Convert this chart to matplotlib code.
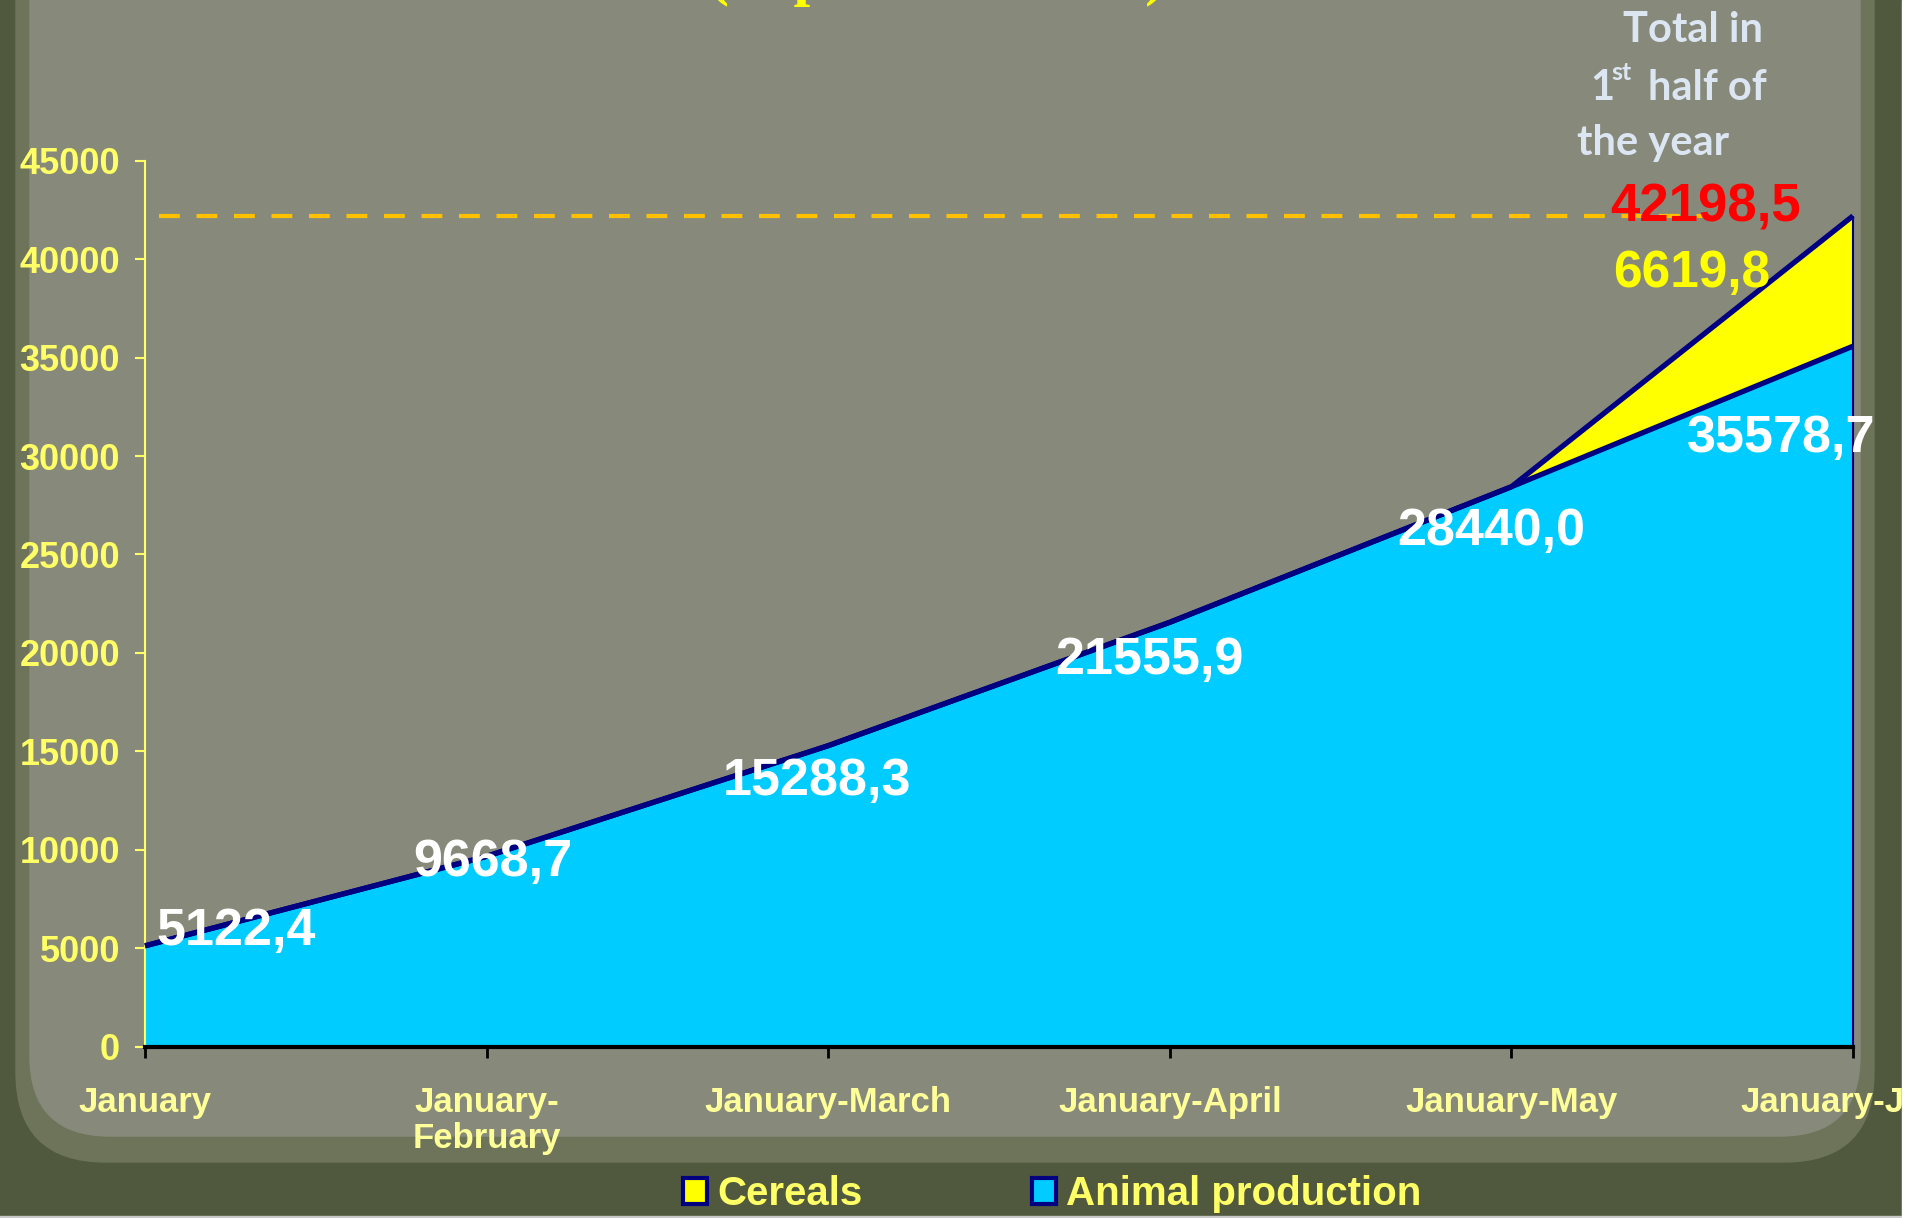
import matplotlib
matplotlib.use("Agg")
import matplotlib.pyplot as plt
from matplotlib.patches import Rectangle, FancyBboxPatch, Patch

# data (thousand units), cumulative by month, 1st half of the year
periods = ["January", "January-\nFebruary", "January-March", "January-April",
           "January-May", "January-June"]
animal = [5122.4, 9668.7, 15288.3, 21555.9, 28440.0, 35578.7]
cereals = [0.0, 0.0, 0.0, 0.0, 0.0, 6619.8]
animal_labels = ["5122,4", "9668,7", "15288,3", "21555,9", "28440,0", "35578,7"]
cereal_label = "6619,8"
total_label = "42198,5"
series_names = ["Cereals", "Animal production"]

W, H = 1923, 1218
plt.rcParams['font.family'] = ['Liberation Sans', 'DejaVu Sans']
plt.rcParams['font.weight'] = 'bold'

fig = plt.figure(figsize=(W / 100, H / 100), dpi=100)
fig.patch.set_facecolor('white')

# stone-like background with darker border
bg = fig.add_axes([0, 0, 1, 1], zorder=-5)
bg.set_xlim(0, W)
bg.set_ylim(H, 0)
bg.axis('off')
bg.add_patch(Rectangle((0, 0), 1902, 1216, color='#50593d'))
bg.add_patch(FancyBboxPatch((16, -200), 1858, 1362,
                            boxstyle="round,pad=0,rounding_size=90",
                            color='#6d7459'))
bg.add_patch(FancyBboxPatch((30, -200), 1830, 1336,
                            boxstyle="round,pad=0,rounding_size=80",
                            color='#878a7b'))
bg.add_patch(Rectangle((0, 1216), W, 2, color='#c8c8c8'))

ax = fig.add_axes([145 / W, 1 - 1046.7 / H, (1853 - 145) / W, (1046.7 - 160.7) / H])
ax.set_facecolor('none')

x = list(range(len(periods)))
total = [a + c for a, c in zip(animal, cereals)]

ax.stackplot(x, animal, cereals, colors=['#00CCFF', '#FFFF00'], linewidth=0, zorder=2)
ax.plot(x, total, color='#000080', lw=3.8, zorder=3, clip_on=False, solid_capstyle='butt')
ax.plot(x, animal, color='#000080', lw=3.8, zorder=3, clip_on=False, solid_capstyle='butt')
ax.vlines(x[-1], 0, total[-1], color='#000080', lw=1.5, zorder=3, clip_on=False)

ax.hlines(total[-1], 0.04, 4.575, color='#FFC000', lw=3, linestyles=(0, (5, 4)),
          zorder=4, clip_on=False)

ax.set_xlim(0, len(periods) - 1)
ax.set_ylim(0, 45000)
ax.set_yticks(range(0, 45001, 5000))
ax.set_xticks(x)
ax.set_xticklabels(periods, fontsize=25, color='#FFFF99', linespacing=1.15)
ax.tick_params(axis='y', colors='#FFFF66', labelsize=26, length=7, width=1.5, pad=11)
ax.tick_params(axis='x', color='black', length=8, width=2, pad=20)
for lab in ax.get_yticklabels():
    lab.set_color('#FFFF66')

for s in ['top', 'right']:
    ax.spines[s].set_visible(False)
ax.spines['left'].set_color('#FFFF66')
ax.spines['left'].set_linewidth(1.5)
ax.spines['bottom'].set_color('black')
ax.spines['bottom'].set_linewidth(3)
ax.spines['bottom'].set_zorder(5)

# value labels
offsets = [(11, 14, 'left'), (6, -6, 'center'), (-11, -36, 'center'),
           (-20, -38, 'center'), (-20, -45, 'center'), (-72, -92, 'center')]
for xi, yi, lab, (dx, dy, ha) in zip(x, animal, animal_labels, offsets):
    ax.annotate(lab, (xi, yi), xytext=(dx, dy), textcoords='offset pixels',
                ha=ha, va='center', fontsize=37.5, color='white', zorder=6,
                annotation_clip=False)

ax.annotate(total_label, (x[-1], total[-1]), xytext=(-243, -6), textcoords='offset pixels',
            ha='left', va='baseline', fontsize=38, color='#FF0000', zorder=6,
            annotation_clip=False)
ax.annotate(cereal_label, (x[-1], total[-1]), xytext=(-240, -71), textcoords='offset pixels',
            ha='left', va='baseline', fontsize=37, color='#FFFF00', zorder=6,
            annotation_clip=False)

# "Total in 1st half of the year" note
note_font = ['Lato', 'DejaVu Sans']
note_col = '#DCE6F2'
fig.text(1623 / W, 1 - 42 / H, "Total in", family=note_font, fontsize=30,
         color=note_col, ha='left', va='baseline')
fig.text(1590 / W, 1 - 100 / H, "1", family=note_font, fontsize=30,
         color=note_col, ha='left', va='baseline')
fig.text(1611 / W, 1 - 80 / H, "st", family=note_font, fontsize=18,
         color=note_col, ha='left', va='baseline')
fig.text(1648 / W, 1 - 100 / H, "half of", family=note_font, fontsize=30,
         color=note_col, ha='left', va='baseline')
fig.text(1577 / W, 1 - 155 / H, "the year", family=note_font, fontsize=30,
         color=note_col, ha='left', va='baseline')

# title, mostly cut off by the top edge
fig.text(937 / W, 1 + 6 / H, "(in prices of 2013)", family=['Liberation Serif', 'DejaVu Serif'],
         fontsize=43, color='#FFFF00', ha='center', va='baseline')

handles = [Patch(facecolor='#FFFF00', edgecolor='#000080', lw=3),
           Patch(facecolor='#00CCFF', edgecolor='#000080', lw=3)]
leg = fig.legend(handles, series_names, loc='center', bbox_to_anchor=(1052 / W, 1 - 1194 / H),
                 ncol=2, frameon=False, handlelength=0.6, handleheight=0.6,
                 handletextpad=0.25, columnspacing=4.2,
                 prop={'family': ['Liberation Sans Narrow', 'Liberation Sans'],
                       'weight': 'bold', 'size': 29})
for t in leg.get_texts():
    t.set_color('#FFFF66')

# white strip on the right edge
fig.add_artist(Rectangle((1902 / W, 0), 21 / W, 1, transform=fig.transFigure,
                         color='white', zorder=20))

fig.savefig('out.png', dpi=100, facecolor=fig.get_facecolor())
